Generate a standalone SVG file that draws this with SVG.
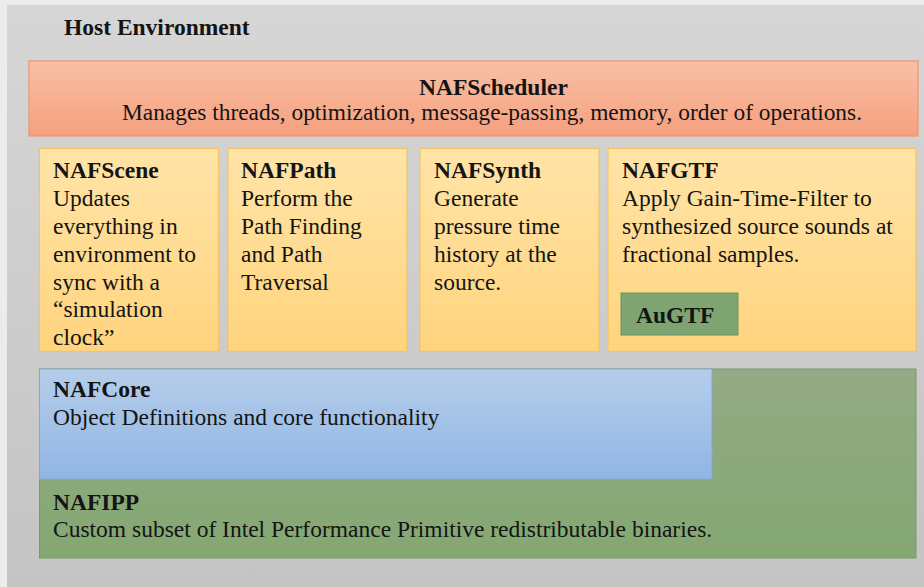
<svg xmlns="http://www.w3.org/2000/svg" width="924" height="587" viewBox="0 0 924 587">
  <defs>
    <linearGradient id="gBg" x1="0" y1="0" x2="0" y2="1">
      <stop offset="0" stop-color="#d6d6d6"/>
      <stop offset="1" stop-color="#c4c4c4"/>
    </linearGradient>
    <linearGradient id="gSched" x1="0" y1="0" x2="0" y2="1">
      <stop offset="0" stop-color="#f9c0a4"/>
      <stop offset="1" stop-color="#f5a07f"/>
    </linearGradient>
    <linearGradient id="gYellow" x1="0" y1="0" x2="0" y2="1">
      <stop offset="0" stop-color="#ffe4a8"/>
      <stop offset="1" stop-color="#ffd47e"/>
    </linearGradient>
    <linearGradient id="gBlue" x1="0" y1="0" x2="0" y2="1">
      <stop offset="0" stop-color="#b5cdea"/>
      <stop offset="1" stop-color="#90b6e4"/>
    </linearGradient>
    <linearGradient id="gGreen" x1="0" y1="0" x2="0" y2="1">
      <stop offset="0" stop-color="#94aa84"/>
      <stop offset="1" stop-color="#84a872"/>
    </linearGradient>
  </defs>
  <style>
    text { font-family: "Liberation Serif", "Times New Roman", serif; font-size: 23.5px; fill: #141414; }
    .b { font-weight: bold; }
    .yellow { fill: url(#gYellow); stroke: #f4c463; stroke-width: 1.2; }
  </style>

  <rect x="0" y="0" width="924" height="587" fill="#ececec"/>
  <g id="host">
    <rect x="7" y="5" width="917" height="582" fill="url(#gBg)"/>
    <text class="b" x="64" y="35">Host Environment</text>
  </g>

  <g id="NAFScheduler">
    <rect x="29" y="61" width="889" height="75" fill="url(#gSched)" stroke="#ef9470" stroke-width="1.2"/>
    <text class="b" x="419" y="95">NAFScheduler</text>
    <text x="122" y="120" textLength="740" lengthAdjust="spacingAndGlyphs">Manages threads, optimization, message-passing, memory, order of operations.</text>
  </g>

  <g id="NAFScene">
    <rect class="yellow" x="39.5" y="148.5" width="179" height="203"/>
    <text class="b" x="53" y="178">NAFScene</text>
    <text x="53" y="206">Updates</text>
    <text x="53" y="234">everything in</text>
    <text x="53" y="262">environment to</text>
    <text x="53" y="290">sync with a</text>
    <text x="53" y="317">“simulation</text>
    <text x="53" y="345">clock”</text>
  </g>

  <g id="NAFPath">
    <rect class="yellow" x="228" y="148.5" width="179" height="203"/>
    <text class="b" x="241" y="178">NAFPath</text>
    <text x="241" y="206">Perform the</text>
    <text x="241" y="234">Path Finding</text>
    <text x="241" y="262">and Path</text>
    <text x="241" y="290">Traversal</text>
  </g>

  <g id="NAFSynth">
    <rect class="yellow" x="420" y="148.5" width="179" height="203"/>
    <text class="b" x="434" y="178">NAFSynth</text>
    <text x="434" y="206">Generate</text>
    <text x="434" y="234">pressure time</text>
    <text x="434" y="262">history at the</text>
    <text x="434" y="290">source.</text>
  </g>

  <g id="NAFGTF">
    <rect class="yellow" x="608" y="148.5" width="308" height="203"/>
    <text class="b" x="622" y="178">NAFGTF</text>
    <text x="622" y="206">Apply Gain-Time-Filter to</text>
    <text x="622" y="234">synthesized source sounds at</text>
    <text x="622" y="262">fractional samples.</text>
  </g>

  <g id="AuGTF">
    <rect x="621" y="293" width="117" height="42" fill="#7ea571" stroke="#6b9462" stroke-width="1"/>
    <text class="b" x="636" y="323">AuGTF</text>
  </g>

  <g id="NAFIPP">
    <rect x="39.5" y="369" width="876.5" height="189" fill="url(#gGreen)" stroke="#7a9a6a" stroke-width="1"/>
    <text class="b" x="53" y="510">NAFIPP</text>
    <text x="53" y="537">Custom subset of Intel Performance Primitive redistributable binaries.</text>
  </g>

  <g id="NAFCore">
    <rect x="39.5" y="369" width="672.5" height="110" fill="url(#gBlue)" stroke="#86a7cf" stroke-width="1"/>
    <text class="b" x="53" y="397">NAFCore</text>
    <text x="53" y="425">Object Definitions and core functionality</text>
  </g>

  <g id="connectors"/>
</svg>
